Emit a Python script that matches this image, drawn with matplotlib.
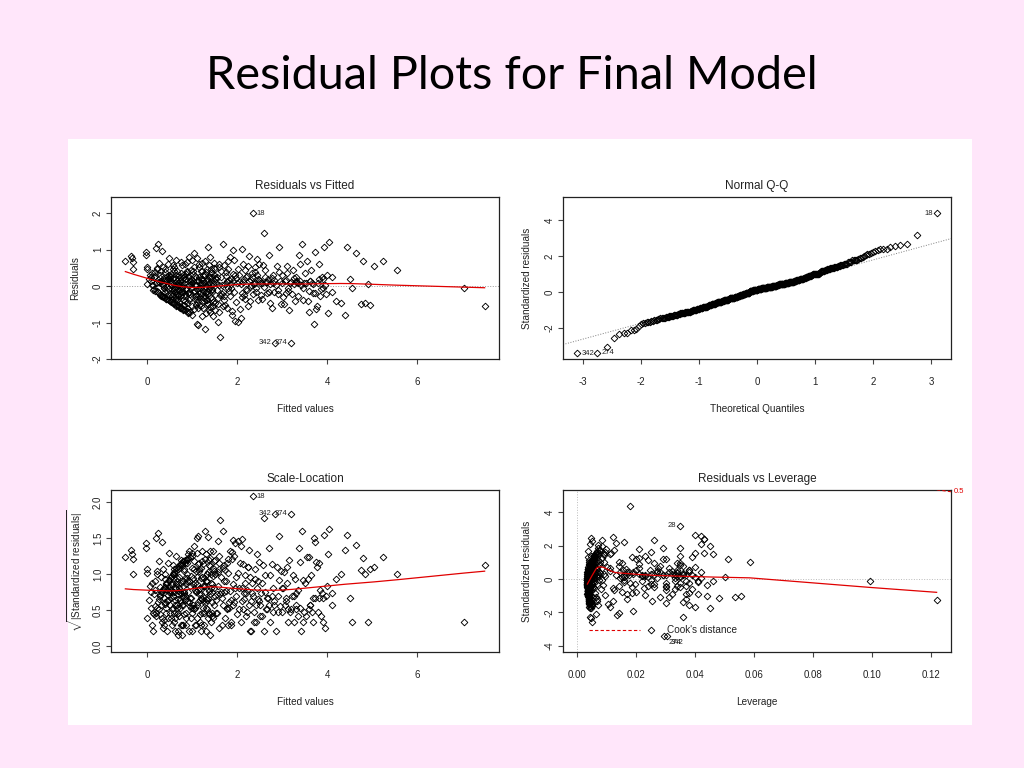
import numpy as np
import matplotlib.pyplot as plt
from matplotlib.patches import Rectangle
from statistics import NormalDist

# fitted values, raw residuals and hat values of the final model
fitted = [
    -0.48, -0.36, -0.33, -0.30, -0.30, -0.03, -0.03, -0.01, 0.00, -0.01,
    0.04, 0.06, 0.08, 0.10, 0.12, 0.15, 0.18, 0.20, 0.22, 0.25,
    0.12, 0.14, 0.16, 0.18, 0.21, 0.23, 0.26, 0.28, 0.30, 0.31,
    0.32, 0.33, 0.34, 0.35, 0.36, 0.37, 0.38, 0.39, 0.40, 0.41,
    0.42, 0.43, 0.44, 0.45, 0.46, 0.47, 0.48, 0.49, 0.50, 0.27,
    0.13, 0.19, 0.24, 0.29, 0.33, 0.38, 0.43, 0.46, 0.48, 0.22,
    0.31, 0.35, 0.39, 0.44, 0.47, 0.17, 0.26, 0.36, 0.41, 0.49,
    0.51, 0.52, 0.53, 0.54, 0.55, 0.56, 0.57, 0.58, 0.59, 0.60,
    0.61, 0.62, 0.63, 0.64, 0.65, 0.66, 0.67, 0.68, 0.69, 0.70,
    0.71, 0.72, 0.73, 0.74, 0.75, 0.76, 0.77, 0.78, 0.79, 0.80,
    0.81, 0.82, 0.83, 0.84, 0.85, 0.86, 0.87, 0.88, 0.89, 0.90,
    0.91, 0.92, 0.93, 0.94, 0.95, 0.96, 0.97, 0.98, 0.99, 1.00,
    0.52, 0.55, 0.58, 0.62, 0.66, 0.70, 0.74, 0.78, 0.83, 0.88,
    0.53, 0.57, 0.61, 0.65, 0.69, 0.73, 0.77, 0.81, 0.86, 0.92,
    0.54, 0.59, 0.64, 0.68, 0.72, 0.76, 0.80, 0.85, 0.90, 0.95,
    0.56, 0.60, 0.63, 0.67, 0.71, 0.75, 0.79, 0.84, 0.89, 0.97,
    0.51, 0.58, 0.64, 0.70, 0.76, 0.82, 0.87, 0.93, 0.98, 0.99,
    1.01, 1.03, 1.05, 1.07, 1.09, 1.11, 1.13, 1.15, 1.17, 1.19,
    1.21, 1.23, 1.25, 1.27, 1.29, 1.31, 1.33, 1.35, 1.37, 1.39,
    1.41, 1.43, 1.45, 1.47, 1.49, 1.02, 1.06, 1.10, 1.14, 1.18,
    1.22, 1.26, 1.30, 1.34, 1.38, 1.42, 1.46, 1.04, 1.08, 1.12,
    1.16, 1.20, 1.24, 1.28, 1.32, 1.36, 1.40, 1.44, 1.48, 1.50,
    1.03, 1.07, 1.11, 1.15, 1.19, 1.23, 1.27, 1.31, 1.35, 1.39,
    1.43, 1.47, 1.05, 1.09, 1.13, 1.17, 1.21, 1.25, 1.29, 1.33,
    1.37, 1.41, 1.45, 1.49, 1.12, 1.26, 1.34, 1.46, 1.08, 1.30,
    1.15, 1.22, 1.38, 1.44, 1.02, 1.20, 1.32, 1.48, 1.28, 1.36,
    1.52, 1.55, 1.58, 1.61, 1.63, 1.66, 1.69, 1.72, 1.75, 1.78,
    1.80, 1.83, 1.86, 1.89, 1.92, 1.95, 1.98, 1.53, 1.57, 1.64,
    1.67, 1.71, 1.74, 1.77, 1.81, 1.85, 1.88, 1.91, 1.94, 1.97,
    1.51, 1.56, 1.60, 1.65, 1.70, 1.73, 1.79, 1.84, 1.90, 1.96,
    1.54, 1.59, 1.62, 1.68, 1.76, 1.82, 1.87, 1.93, 1.99, 1.58,
    2.02, 2.05, 2.08, 2.12, 2.15, 2.18, 2.22, 2.25, 2.28, 2.31,
    2.35, 2.38, 2.41, 2.44, 2.47, 2.49, 2.03, 2.10, 2.20, 2.27,
    2.06, 2.14, 2.24, 2.33, 2.42, 2.46, 2.17, 2.29, 2.39, 2.13,
    2.52, 2.55, 2.60, 2.63, 2.67, 2.70, 2.74, 2.78, 2.82, 2.85,
    2.88, 2.91, 2.94, 2.97, 2.99, 2.58, 2.66, 2.77, 2.87, 2.93,
    3.02, 3.06, 3.10, 3.14, 3.18, 3.20, 3.24, 3.28, 3.32, 3.36,
    3.40, 3.44, 3.47, 3.04, 3.12, 3.22, 3.30, 3.38, 3.46, 3.16,
    3.52, 3.56, 3.60, 3.64, 3.68, 3.70, 3.73, 3.77, 3.81, 3.85,
    3.89, 3.93, 3.97, 3.99, 3.58, 3.66, 3.75, 3.83, 3.91, 3.62,
    4.02, 4.05, 4.10, 4.20, 4.30, 4.40, 4.45, 4.50, 4.55, 4.65,
    4.75, 4.80, 4.85, 4.90, 4.95, 5.05, 5.25, 5.55, 7.05, 7.50,
    2.04, 2.09, 2.16, 2.21, 2.26, 2.30, 2.34, 2.37, 2.43, 2.48,
    2.51, 2.56, 2.61, 2.65, 2.69, 2.73, 2.79, 2.83, 2.90, 2.96,
    3.01, 3.08, 3.13, 3.19, 3.26, 3.31, 3.35, 3.39, 3.43, 3.48,
    3.53, 3.59, 3.63, 3.69, 3.74, 3.79, 3.86, 3.92, 3.96, 4.12,
    2.11, 2.23, 2.36, 2.45, 2.54, 2.62, 2.72, 2.81, 3.09, 3.27,
    0.34, 0.42, 0.55, 0.63, 0.72, 0.79, 0.87, 0.94, 1.04, 1.10,
    1.18, 1.24, 1.31, 1.37, 1.45, 1.52, 1.60, 1.69, 1.78, 1.87,
    0.58, 0.67, 0.75, 0.83, 0.91, 0.99, 1.07, 1.14, 1.23, 1.33,
    0.28, 0.37, 0.45, 0.52, 0.61, 0.69, 0.77, 0.85, 0.96, 1.42,
]
residuals = [
    0.70, 0.82, 0.76, 0.67, 0.46, 0.95, 0.85, 0.53, 0.48, 0.07,
    0.19, 0.32, 0.13, 0.26, 0.04, -0.09, 0.38, 1.05, -0.13, 1.15,
    0.36, -0.10, 0.24, -0.14, 0.10, 0.47, -0.20, 0.31, -0.23, 0.15,
    -0.26, 0.07, 0.97, -0.28, 0.53, -0.04, 0.21, -0.31, 0.40, -0.17,
    0.13, -0.34, 0.28, -0.36, 0.61, -0.07, 0.77, -0.38, 0.32, 0.64,
    0.02, 0.08, -0.17, 0.09, -0.26, -0.30, -0.35, 0.19, -0.39, 0.51,
    0.43, 0.03, 0.16, -0.02, 0.23, 0.28, 0.12, -0.29, 0.47, -0.26,
    -0.41, 0.10, -0.21, 0.34, -0.44, 0.04, 0.58, -0.13, -0.47, 0.26,
    -0.49, 0.19, -0.30, -0.51, 0.72, -0.09, 0.41, -0.53, 0.02, -0.34,
    0.30, -0.58, 0.13, -0.19, -0.60, 0.66, -0.04, -0.61, 0.22, -0.38,
    -0.64, 0.09, -0.26, 0.61, -0.66, -0.10, 0.34, -0.68, 0.41, -0.47,
    -0.70, 0.26, -0.17, 0.81, -0.32, -0.71, 0.07, 0.44, -0.55, -0.02,
    0.15, -0.26, 0.47, -0.07, -0.38, 0.10, 0.26, -0.15, -0.53, 0.38,
    -0.43, 0.22, 0.53, -0.54, -0.24, -0.60, 0.58, 0.04, -0.04, -0.75,
    0.07, -0.10, 0.30, 0.01, -0.43, 0.36, -0.65, 0.19, 0.66, -0.21,
    -0.34, 0.41, -0.15, 0.13, -0.54, -0.17, 0.32, -0.41, -0.61, 0.21,
    0.26, -0.47, -0.34, -0.27, 0.04, -0.51, -0.07, -0.38, 0.13, 0.72,
    -0.78, 0.34, 0.90, -0.13, -0.51, -1.05, 0.17, 0.53, -0.30, 0.02,
    -0.24, 0.64, -0.60, 0.10, -1.18, 0.38, -0.38, 1.07, -0.09, 0.24,
    -0.70, 0.47, -0.17, -0.44, 0.30, 0.13, -0.36, 0.77, -1.08, -0.19,
    0.43, -0.04, -0.75, 0.19, 0.58, -0.30, 0.07, -0.64, 0.26, -0.43,
    0.61, -0.55, 0.32, -0.26, -0.02, -0.49, 0.81, -0.10, 0.51, -0.66,
    -0.15, 0.04, -0.34, 0.24, 0.41, -0.81, -0.41, 0.13, -0.21, -0.58,
    0.36, -0.81, 0.53, -0.27, -0.60, 0.09, 0.21, -0.13, 0.68, -0.47,
    0.27, -0.01, -0.34, 0.15, -0.07, -0.32, 0.47, -0.55, 0.04, -0.38,
    -0.51, 0.10, -0.66, 0.26, 0.41, -0.04, -0.17, 0.64, 0.32, 0.07,
    -0.47, 0.24, -0.98, 0.53, -1.40, 0.04, 1.17, -0.26, 0.38, -0.61,
    0.68, -0.13, 0.19, -0.78, 1.00, 0.30, -0.43, 0.10, -0.32, 0.43,
    -0.21, 0.58, -0.51, 0.13, -0.04, 0.81, -0.68, 0.34, -0.17, 0.22,
    0.47, -0.10, -0.72, 0.26, -0.38, 0.07, 0.47, -0.27, 0.15, -0.95,
    0.19, 0.61, -0.24, -0.55, 0.27, 0.17, -0.04, 0.72, 0.09, -0.49,
    -0.98, 0.30, -0.88, 1.02, -0.25, 0.45, -0.10, 0.55, -0.42, 0.18,
    2.00, 0.05, 0.40, 0.75, -0.38, 0.62, 0.48, -0.30, 0.25, 0.82,
    -0.62, 0.12, -0.55, 0.35, -0.15, 0.20, -0.35, -0.02, 0.52, 0.60,
    0.08, -0.35, 1.45, 0.45, -0.20, 0.85, -0.45, 0.22, -0.15, -1.55,
    0.55, -0.22, 1.08, -0.50, 0.30, 0.58, 0.12, -0.60, 0.02, 0.38,
    -0.30, 0.15, 0.35, -0.12, 0.10, -1.55, 0.45, -0.40, 0.12, -0.28,
    0.62, 1.17, -0.05, -0.48, 0.55, -0.22, 0.25, 0.85, -0.38, -0.65,
    0.35, 0.70, -0.70, 0.45, -0.20, -1.03, 0.95, -0.55, 0.20, -0.28,
    0.25, 1.08, -0.22, 0.32, -0.40, 0.10, -0.62, 0.60, -0.05, 0.15,
    -0.75, 1.20, 0.25, -0.40, -0.45, -0.80, 1.08, 0.20, -0.05, 0.90,
    -0.50, 0.68, -0.45, 0.05, -0.52, 0.55, 0.70, 0.45, -0.05, -0.55,
    0.12, 0.05, 0.20, -0.08, 0.15, 0.02, 0.25, 0.10, -0.05, 0.18,
    0.15, 0.08, -0.02, 0.12, 0.20, 0.05, 0.10, 0.18, -0.10, 0.14,
    0.10, 0.18, -0.05, 0.12, 0.05, 0.15, 0.08, 0.13, 0.02, 0.10,
    0.08, -0.12, 0.15, 0.05, -0.20, 0.10, -0.08, 0.20, 0.03, -0.15,
    -0.18, 0.28, -0.22, 0.30, -0.25, 0.26, -0.15, 0.30, -0.20, 0.22,
    0.05, -0.10, 0.12, -0.02, 0.08, -0.15, 0.20, 0.02, -0.12, 0.15,
    -0.05, 0.18, -0.20, 0.10, -0.08, 0.22, 0.03, -0.15, 0.12, 0.05,
    -0.22, 0.15, -0.25, 0.25, -0.18, 0.10, 0.28, -0.28, 0.20, -0.12,
    0.22, -0.06, 0.18, 0.28, -0.05, 0.20, 0.01, -0.22, 0.14, 0.05,
]
leverage = [
    0.0112, 0.0098, 0.0095, 0.0092, 0.0092, 0.0071, 0.0071, 0.0069, 0.0068, 0.0069,
    0.0065, 0.0062, 0.0060, 0.0058, 0.0056, 0.0053, 0.0050, 0.0049, 0.0048, 0.0046,
    0.0057, 0.0055, 0.0053, 0.0051, 0.0049, 0.0047, 0.0046, 0.0045, 0.0044, 0.0043,
    0.0043, 0.0042, 0.0042, 0.0041, 0.0041, 0.0040, 0.0040, 0.0039, 0.0039, 0.0039,
    0.0038, 0.0038, 0.0037, 0.0037, 0.0037, 0.0036, 0.0036, 0.0036, 0.0035, 0.0045,
    0.0056, 0.0050, 0.0047, 0.0044, 0.0042, 0.0040, 0.0038, 0.0037, 0.0036, 0.0048,
    0.0043, 0.0041, 0.0039, 0.0037, 0.0036, 0.0052, 0.0046, 0.0041, 0.0039, 0.0036,
    0.0035, 0.0046, 0.0034, 0.0052, 0.0035, 0.0041, 0.0058, 0.0034, 0.0036, 0.0049,
    0.0038, 0.0044, 0.0036, 0.0039, 0.0063, 0.0037, 0.0051, 0.0040, 0.0042, 0.0035,
    0.0047, 0.0041, 0.0038, 0.0036, 0.0043, 0.0055, 0.0034, 0.0044, 0.0045, 0.0036,
    0.0046, 0.0037, 0.0035, 0.0060, 0.0047, 0.0036, 0.0049, 0.0048, 0.0039, 0.0037,
    0.0050, 0.0042, 0.0035, 0.0078, 0.0036, 0.0051, 0.0034, 0.0053, 0.0041, 0.0034,
    0.0040, 0.0036, 0.0050, 0.0035, 0.0039, 0.0038, 0.0044, 0.0035, 0.0042, 0.0046,
    0.0034, 0.0042, 0.0055, 0.0039, 0.0036, 0.0041, 0.0058, 0.0035, 0.0037, 0.0049,
    0.0037, 0.0034, 0.0045, 0.0036, 0.0037, 0.0047, 0.0045, 0.0040, 0.0066, 0.0035,
    0.0035, 0.0048, 0.0035, 0.0038, 0.0040, 0.0034, 0.0046, 0.0037, 0.0044, 0.0039,
    0.0044, 0.0036, 0.0037, 0.0035, 0.0037, 0.0039, 0.0034, 0.0038, 0.0036, 0.0070,
    0.0040, 0.0046, 0.0082, 0.0035, 0.0038, 0.0044, 0.0036, 0.0052, 0.0035, 0.0034,
    0.0035, 0.0058, 0.0038, 0.0036, 0.0049, 0.0043, 0.0036, 0.0085, 0.0035, 0.0040,
    0.0041, 0.0049, 0.0035, 0.0038, 0.0042, 0.0036, 0.0037, 0.0068, 0.0046, 0.0035,
    0.0046, 0.0034, 0.0042, 0.0037, 0.0056, 0.0036, 0.0035, 0.0039, 0.0041, 0.0037,
    0.0055, 0.0038, 0.0043, 0.0035, 0.0034, 0.0038, 0.0072, 0.0035, 0.0050, 0.0041,
    0.0035, 0.0034, 0.0036, 0.0040, 0.0045, 0.0044, 0.0037, 0.0036, 0.0035, 0.0039,
    0.0044, 0.0046, 0.0050, 0.0036, 0.0039, 0.0035, 0.0041, 0.0034, 0.0060, 0.0038,
    0.0040, 0.0034, 0.0037, 0.0038, 0.0034, 0.0035, 0.0048, 0.0040, 0.0034, 0.0036,
    0.0038, 0.0035, 0.0041, 0.0039, 0.0046, 0.0034, 0.0035, 0.0058, 0.0043, 0.0035,
    0.0045, 0.0048, 0.0062, 0.0055, 0.0250, 0.0052, 0.0120, 0.0058, 0.0072, 0.0066,
    0.0090, 0.0068, 0.0075, 0.0110, 0.0130, 0.0085, 0.0095, 0.0044, 0.0046, 0.0060,
    0.0053, 0.0082, 0.0064, 0.0070, 0.0075, 0.0125, 0.0105, 0.0100, 0.0088, 0.0110,
    0.0050, 0.0045, 0.0070, 0.0054, 0.0060, 0.0058, 0.0078, 0.0080, 0.0092, 0.0140,
    0.0046, 0.0065, 0.0050, 0.0066, 0.0068, 0.0078, 0.0082, 0.0115, 0.0095, 0.0052,
    0.0135, 0.0110, 0.0190, 0.0160, 0.0120, 0.0150, 0.0180, 0.0200, 0.0170, 0.0145,
    0.0180, 0.0160, 0.0210, 0.0250, 0.0185, 0.0230, 0.0140, 0.0125, 0.0155, 0.0210,
    0.0120, 0.0165, 0.0170, 0.0140, 0.0195, 0.0175, 0.0150, 0.0160, 0.0240, 0.0185,
    0.0220, 0.0200, 0.0350, 0.0260, 0.0240, 0.0290, 0.0230, 0.0270, 0.0250, 0.0305,
    0.0300, 0.0260, 0.0260, 0.0280, 0.0310, 0.0210, 0.0230, 0.0255, 0.0270, 0.0350,
    0.0300, 0.0330, 0.0280, 0.0350, 0.0290, 0.0295, 0.0340, 0.0320, 0.0360, 0.0330,
    0.0350, 0.0420, 0.0370, 0.0310, 0.0290, 0.0300, 0.0340, 0.0350, 0.0380, 0.0300,
    0.0360, 0.0400, 0.0380, 0.0350, 0.0340, 0.0360, 0.0420, 0.0370, 0.0340, 0.0390,
    0.0380, 0.0430, 0.0350, 0.0400, 0.0370, 0.0330, 0.0360, 0.0390, 0.0410, 0.0340,
    0.0400, 0.0400, 0.0380, 0.0410, 0.0440, 0.0450, 0.0430, 0.0420, 0.0460, 0.0450,
    0.0535, 0.0460, 0.0555, 0.0500, 0.0480, 0.0510, 0.0430, 0.0585, 0.0993, 0.1220,
    0.0130, 0.0150, 0.0170, 0.0160, 0.0190, 0.0145, 0.0200, 0.0175, 0.0220, 0.0190,
    0.0210, 0.0230, 0.0250, 0.0220, 0.0270, 0.0240, 0.0260, 0.0280, 0.0300, 0.0250,
    0.0290, 0.0310, 0.0330, 0.0300, 0.0350, 0.0320, 0.0340, 0.0360, 0.0330, 0.0370,
    0.0350, 0.0380, 0.0360, 0.0400, 0.0370, 0.0390, 0.0410, 0.0380, 0.0420, 0.0440,
    0.0140, 0.0165, 0.0185, 0.0210, 0.0225, 0.0245, 0.0260, 0.0275, 0.0300, 0.0320,
    0.0041, 0.0038, 0.0036, 0.0035, 0.0040, 0.0034, 0.0037, 0.0036, 0.0035, 0.0034,
    0.0035, 0.0036, 0.0034, 0.0035, 0.0037, 0.0040, 0.0045, 0.0050, 0.0058, 0.0065,
    0.0037, 0.0035, 0.0039, 0.0036, 0.0034, 0.0035, 0.0036, 0.0038, 0.0034, 0.0035,
    0.0045, 0.0040, 0.0037, 0.0036, 0.0035, 0.0035, 0.0034, 0.0036, 0.0035, 0.0036,
]

# observation names of the points that R labels
row_names = {320: "18", 342: "28", 349: "342", 365: "274"}
n_coef = 8
cook_levels = [0.5, 1.0]
slide_title = "Residual Plots for Final Model"

PINK = "#FFE6FA"
R_FONT = ["Liberation Sans Narrow", "Liberation Sans", "DejaVu Sans"]
plt.rcParams["font.family"] = R_FONT
plt.rcParams["mathtext.fontset"] = "custom"
plt.rcParams["mathtext.rm"] = "Liberation Sans"
plt.rcParams["mathtext.it"] = "Liberation Sans"


def lowess(x, y, f=2/3, iters=3):
    # plain version of R's lowess (used by panel.smooth)
    order = np.argsort(x, kind="stable")
    x = np.asarray(x, float)[order]
    y = np.asarray(y, float)[order]
    n = len(x)
    k = int(np.ceil(f * n))
    robust = np.ones(n)
    yest = np.zeros(n)
    for it in range(iters + 1):
        for i in range(n):
            d = np.abs(x - x[i])
            h = np.sort(d)[k - 1]
            u = np.clip(d / max(h, 1e-12), 0, 1)
            w = (1 - u ** 3) ** 3 * robust
            sw = w.sum()
            xm = (w * x).sum() / sw
            ym = (w * y).sum() / sw
            b = (w * (x - xm) ** 2).sum()
            if b > 1e-12:
                slope = (w * (x - xm) * (y - ym)).sum() / b
                yest[i] = ym + slope * (x[i] - xm)
            else:
                yest[i] = ym
        res = y - yest
        cmad = 6 * np.median(np.abs(res))
        if cmad < 1e-12:
            break
        u = np.clip(res / cmad, -1, 1)
        robust = (1 - u ** 2) ** 2
    return x, yest


def extendrange(lo, hi, f):
    d = (hi - lo) * f
    return lo - d, hi + d


def style_ax(ax, xticks, yticks, xfmt, yfmt):
    for sp in ax.spines.values():
        sp.set_linewidth(0.9)
        sp.set_color("#222222")
    ax.set_xticks(xticks)
    ax.set_yticks(yticks)
    ax.set_xticklabels([xfmt.format(v) for v in xticks])
    ax.set_yticklabels([yfmt.format(v) for v in yticks])
    ax.tick_params(axis="both", direction="out", length=3.3, width=0.8,
                   color="#444444", labelsize=7, labelcolor="#222222")
    ax.tick_params(axis="x", pad=9.5)
    ax.tick_params(axis="y", pad=2.5, labelrotation=90)
    for lab in ax.get_yticklabels():
        lab.set_verticalalignment("center")


def set_labels(ax, title, xlabel, ylabel):
    ax.text(0.5, 1 + 11 / 162, title, transform=ax.transAxes, ha="center",
            va="center", fontsize=8.5, color="#222222")
    ax.text(0.5, -50 / 162, xlabel, transform=ax.transAxes, ha="center",
            va="center", fontsize=7.2, color="#222222")
    ax.text(-36 / 388, 0.5, ylabel, transform=ax.transAxes, ha="center",
            va="center", rotation=90, fontsize=7.2, color="#222222")


def text_id(ax, xs, ys, idx, drop_neg=0.0):
    # labels go right of the point, or left when past the middle of the labelled range
    xl = xs[idx]
    mid = (xl.min() + xl.max()) / 2
    for i in idx:
        right = xs[i] <= mid
        dy = -drop_neg if ys[i] < 0 else 0.0
        ax.annotate(row_names.get(i, str(i + 1)), (xs[i], ys[i]),
                    xytext=(2.8 if right else -2.8, dy), textcoords="offset points",
                    ha="left" if right else "right", va="center",
                    fontsize=5.5, color="#222222", annotation_clip=False)


def points(ax, x, y):
    ax.plot(x, y, linestyle="none", marker="D", ms=3.4, mfc="none",
            mec="black", mew=0.65, zorder=3)


fv = np.array(fitted)
res = np.array(residuals)
hat = np.array(leverage)
n = len(fv)
sigma = np.sqrt((res ** 2).sum() / (n - n_coef))
std_res = res / (sigma * np.sqrt(1 - hat))
sqrt_abs = np.sqrt(np.abs(std_res))
cooks = std_res ** 2 * hat / (n_coef * (1 - hat))

ranks = np.empty(n, int)
ranks[np.argsort(std_res, kind="stable")] = np.arange(1, n + 1)
theo_q = np.array([NormalDist().inv_cdf((r - 0.5) / n) for r in ranks])

show_r = np.argsort(-np.abs(res), kind="stable")[:3]
show_rs = np.argsort(-np.abs(std_res), kind="stable")[:3]
show_cook = np.argsort(-cooks, kind="stable")[:3]

fig = plt.figure(figsize=(10.24, 7.68), dpi=100, facecolor=PINK)
fig.add_artist(Rectangle((68 / 1024, 1 - 725 / 768), 904 / 1024, 586 / 768,
                         transform=fig.transFigure, facecolor="white",
                         edgecolor="none", zorder=0))
fig.text(0.5, 1 - 89 / 768, slide_title, ha="center", va="baseline",
         fontsize=33.7, family=["Lato", "DejaVu Sans"], color="black")

W, H = 388, 162


def make_ax(left, top):
    return fig.add_axes([left / 1024, 1 - (top + H) / 768, W / 1024, H / 768])


# Residuals vs Fitted
ax1 = make_ax(111, 197)
ax1.set_xlim(*extendrange(fv.min(), fv.max(), 0.04))
ax1.set_ylim(*extendrange(*extendrange(res.min(), res.max(), 0.08), 0.04))
ax1.axhline(0, color="#999999", lw=0.7, ls=":", zorder=1)
points(ax1, fv, res)
sx, sy = lowess(fv, res)
ax1.plot(sx, sy, color="#E00000", lw=0.9, zorder=4)
text_id(ax1, fv, res, show_r)
style_ax(ax1, [0, 2, 4, 6], [-2, -1, 0, 1, 2], "{:g}", "{:g}")
set_labels(ax1, "Residuals vs Fitted", "Fitted values", "Residuals")

# Normal Q-Q
ax2 = make_ax(563, 197)
ylo, yhi = std_res.min(), std_res.max()
yhi += (yhi - ylo) * 0.075
ax2.set_xlim(*extendrange(theo_q.min(), theo_q.max(), 0.04))
ax2.set_ylim(*extendrange(ylo, yhi, 0.04))
q1y, q3y = np.percentile(std_res, [25, 75])
q1x, q3x = NormalDist().inv_cdf(0.25), NormalDist().inv_cdf(0.75)
slope = (q3y - q1y) / (q3x - q1x)
ax2.axline((q1x, q1y), slope=slope, color="#7F7F7F", lw=0.7, ls=":", zorder=1)
points(ax2, theo_q, std_res)
text_id(ax2, theo_q, std_res, show_rs)
style_ax(ax2, [-3, -2, -1, 0, 1, 2, 3], [-2, 0, 2, 4], "{:g}", "{:g}")
set_labels(ax2, "Normal Q-Q", "Theoretical Quantiles", "Standardized residuals")

# Scale-Location
ax3 = make_ax(111, 490)
ax3.set_xlim(*extendrange(fv.min(), fv.max(), 0.04))
ax3.set_ylim(*extendrange(0, sqrt_abs.max(), 0.04))
points(ax3, fv, sqrt_abs)
sx, sy = lowess(fv, sqrt_abs)
ax3.plot(sx, sy, color="#E00000", lw=0.9, zorder=4)
text_id(ax3, fv, sqrt_abs, show_rs)
style_ax(ax3, [0, 2, 4, 6], [0, 0.5, 1.0, 1.5, 2.0], "{:g}", "{:.1f}")
set_labels(ax3, "Scale-Location", "Fitted values",
           r"$\sqrt{|\mathrm{Standardized\ residuals}|}$")

# Residuals vs Leverage
ax4 = make_ax(563, 490)
xl = extendrange(0, hat.max(), 0.04)
yl = extendrange(*extendrange(std_res.min(), std_res.max(), 0.08), 0.04)
ax4.set_xlim(*xl)
ax4.set_ylim(*yl)
ax4.axhline(0, color="#BBBBBB", lw=0.7, ls=":", zorder=1)
ax4.axvline(0, color="#BBBBBB", lw=0.7, ls=":", zorder=1)
points(ax4, hat, std_res)
sx, sy = lowess(hat, std_res)
ax4.plot(sx, sy, color="#E00000", lw=0.9, zorder=4)
hh = np.linspace(min(hat.min(), hat.max() / 100), xl[1], 101)
for crit in cook_levels:
    cl = np.sqrt(crit * n_coef * (1 - hh) / hh)
    ax4.plot(hh, cl, color="#E00000", lw=0.8, ls=(0, (3, 2)), zorder=4)
    ax4.plot(hh, -cl, color="#E00000", lw=0.8, ls=(0, (3, 2)), zorder=4)
    aty = np.sqrt(crit * n_coef * (1 - xl[1]) / xl[1])
    for yv in (aty, -aty):
        if yl[0] <= yv <= yl[1]:
            ax4.text(1.006, yv, "{:g}".format(crit), transform=ax4.get_yaxis_transform(),
                     ha="left", va="center", fontsize=5.5, color="#E00000")
ax4.plot([26 / W, 77 / W], [22 / H, 22 / H], transform=ax4.transAxes,
         color="#E00000", lw=0.8, ls=(0, (3, 2)), clip_on=False)
ax4.text(104 / W, 22 / H, "Cook's distance", transform=ax4.transAxes,
         ha="left", va="center", fontsize=7.2, color="#222222")
text_id(ax4, hat, std_res, show_cook, drop_neg=5.0)
style_ax(ax4, [0, 0.02, 0.04, 0.06, 0.08, 0.10, 0.12], [-4, -2, 0, 2, 4],
         "{:.2f}", "{:g}")
set_labels(ax4, "Residuals vs Leverage", "Leverage", "Standardized residuals")

fig.savefig("out.png", dpi=100, facecolor=PINK)
